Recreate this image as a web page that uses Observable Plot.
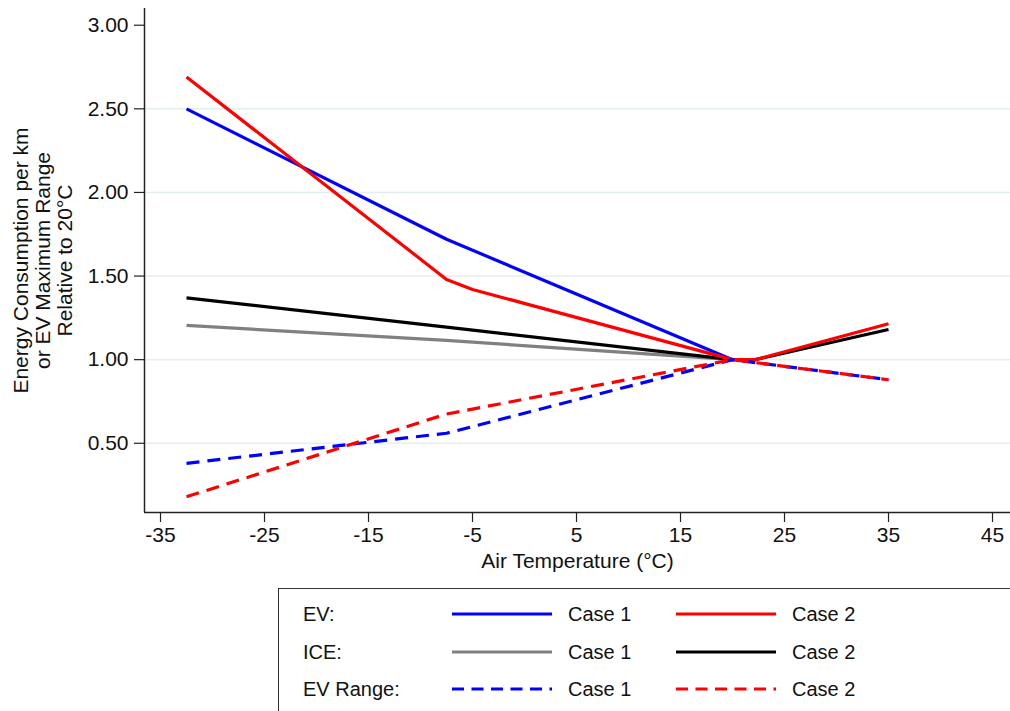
<!DOCTYPE html>
<html>
<head>
<meta charset="utf-8">
<script src="https://cdn.jsdelivr.net/npm/d3@7"></script>
<script src="https://cdn.jsdelivr.net/npm/@observablehq/plot@0.6"></script>
<style>
  html, body { margin: 0; padding: 0; background: #fff; }
  body { width: 1010px; height: 711px; position: relative; overflow: hidden; font-family: "Liberation Sans", Arial, sans-serif; }
  #chart { position: absolute; left: 0; top: 0; }
  #legend { position: absolute; left: 278px; top: 588px; width: 760px; height: 140px; border: 1.5px solid #333; box-sizing: border-box; }
  .lg-row { position: absolute; height: 30px; }
  .lg-text { position: absolute; font-size: 20px; color: #111; line-height: 1; transform: translateY(-50%); white-space: nowrap; }
  .lg-svg { position: absolute; transform: translateY(-50%); }
</style>
</head>
<body>
<div id="chart"></div>
<div id="legend"></div>
<script>
// ---- data ----
const xTicks = [-35, -25, -15, -5, 5, 15, 25, 35, 45];
const yTicks = [0.5, 1.0, 1.5, 2.0, 2.5, 3.0];
const gridValues = [0.5, 1.0, 1.5, 2.0, 2.5];

const evCase1X = [-32.5, -7.5, 20];
const evCase1Y = [2.50, 1.72, 1.00];
const evCase2X = [-32.5, -7.5, -5, 20, 22.2, 35];
const evCase2Y = [2.69, 1.48, 1.42, 1.00, 1.00, 1.215];
const iceCase1X = [-32.5, -7.5, 20];
const iceCase1Y = [1.205, 1.115, 1.00];
const iceCase2X = [-32.5, -7.5, 20, 22.2, 35];
const iceCase2Y = [1.37, 1.195, 1.00, 1.00, 1.18];
const rangeCase1X = [-32.5, -7.5, 20, 35];
const rangeCase1Y = [0.38, 0.56, 1.00, 0.88];
const rangeCase2X = [-32.5, -7.5, 20, 35];
const rangeCase2Y = [0.18, 0.675, 1.00, 0.88];

const legendGroups = ["EV:", "ICE:", "EV Range:"];
const legendCases = ["Case 1", "Case 2"];

const series = [
  {name: "ICE Case 1", xs: iceCase1X, ys: iceCase1Y, color: "#808080", dash: null},
  {name: "ICE Case 2", xs: iceCase2X, ys: iceCase2Y, color: "#000000", dash: null},
  {name: "EV Case 1", xs: evCase1X, ys: evCase1Y, color: "#0000ff", dash: null},
  {name: "EV Case 2", xs: evCase2X, ys: evCase2Y, color: "#ff0000", dash: null},
  {name: "EV Range Case 1", xs: rangeCase1X, ys: rangeCase1Y, color: "#0000ff", dash: "13,8"},
  {name: "EV Range Case 2", xs: rangeCase2X, ys: rangeCase2Y, color: "#ff0000", dash: "13,8"}
];
const toRows = s => s.xs.map((x, i) => ({x, y: s.ys[i]}));

const xDomain = [-36.54, 46.73];
const yDomain = [0.086, 3.10];
const FS = 21;

const marks = [
  Plot.ruleY(gridValues, {stroke: "#e4eef0", strokeWidth: 1.5}),
  ...series.map(s => Plot.line(toRows(s), {
    x: "x", y: "y", stroke: s.color, strokeWidth: 3.2,
    strokeDasharray: s.dash ?? undefined, strokeLinejoin: "round", strokeLinecap: "butt"
  })),
  Plot.ruleX([xDomain[0]], {stroke: "#222", strokeWidth: 1.5}),
  Plot.ruleY([yDomain[0]], {stroke: "#222", strokeWidth: 1.5}),
  Plot.axisY(yTicks, {tickSize: 10, tickPadding: 6, tickFormat: d3.format(".2f"), fontSize: FS, stroke: "#222", strokeWidth: 1.2, fill: "#111", label: null}),
  Plot.axisX(xTicks, {tickSize: 10, tickPadding: 5, tickFormat: d => d < 0 ? "-" + Math.abs(d) : String(d), fontSize: FS, stroke: "#222", strokeWidth: 1.2, fill: "#111", label: null}),
  Plot.text(["Air Temperature (°C)"], {frameAnchor: "bottom", dy: 49, lineAnchor: "middle", fontSize: FS, fill: "#111"}),
  Plot.text(["Energy Consumption per km\nor EV Maximum Range\nRelative to 20°C"], {frameAnchor: "left", dx: -102, rotate: -90, lineAnchor: "middle", textAnchor: "middle", lineHeight: 1.05, fontSize: FS, fill: "#111"})
];

const chart = Plot.plot({
  width: 1010,
  height: 580,
  marginLeft: 144,
  marginRight: 0,
  marginTop: 8,
  marginBottom: 68,
  style: {fontFamily: "'Liberation Sans', Arial, sans-serif", background: "#fff", overflow: "visible"},
  x: {domain: xDomain, axis: null},
  y: {domain: yDomain, axis: null},
  marks
});
document.getElementById("chart").appendChild(chart);

// ---- legend ----
const legend = document.getElementById("legend");
const legendSeries = [
  [series[2], series[3]],
  [series[0], series[1]],
  [series[4], series[5]]
];
const rowY = [25, 63, 100];
legendGroups.forEach((g, r) => {
  const t = document.createElement("div");
  t.className = "lg-text";
  t.style.left = "24px"; t.style.top = rowY[r] + "px";
  t.textContent = g;
  legend.appendChild(t);
  legendCases.forEach((c, k) => {
    const s = legendSeries[r][k];
    const lx = k === 0 ? 173 : 397;
    const ns = "http://www.w3.org/2000/svg";
    const svg = document.createElementNS(ns, "svg");
    svg.setAttribute("width", 100); svg.setAttribute("height", 8);
    svg.setAttribute("class", "lg-svg");
    svg.style.left = lx + "px"; svg.style.top = rowY[r] + "px";
    const ln = document.createElementNS(ns, "line");
    ln.setAttribute("x1", 0); ln.setAttribute("x2", 100);
    ln.setAttribute("y1", 4); ln.setAttribute("y2", 4);
    ln.setAttribute("stroke", s.color); ln.setAttribute("stroke-width", 3.2);
    if (s.dash) ln.setAttribute("stroke-dasharray", "12,7.5");
    svg.appendChild(ln);
    legend.appendChild(svg);
    const ct = document.createElement("div");
    ct.className = "lg-text";
    ct.style.left = (lx + 116) + "px"; ct.style.top = rowY[r] + "px";
    ct.textContent = c;
    legend.appendChild(ct);
  });
});
</script>
</body>
</html>
